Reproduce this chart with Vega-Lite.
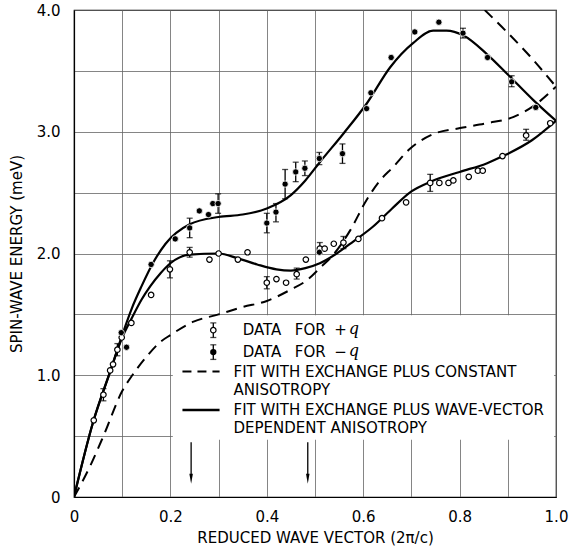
{
  "$schema": "https://vega.github.io/schema/vega-lite/v6.json",
  "width": 482,
  "height": 487,
  "autosize": "none",
  "padding": {"left": 74, "top": 10, "right": 14, "bottom": 50},
  "background": "white",
  "config": {
    "font": "DejaVu Sans",
    "view": {"stroke": "black", "strokeWidth": 1.2},
    "axis": {
      "domainColor": "black", "domainWidth": 1.2,
      "gridColor": "#666", "gridWidth": 0.8, "gridOpacity": 1,
      "ticks": false, "tickSize": 0,
      "labelFont": "DejaVu Sans", "labelFontSize": 15, "labelColor": "black",
      "titleFont": "DejaVu Sans", "titleFontSize": 15, "titleFontWeight": "normal", "titleColor": "black"
    }
  },
  "datasets": {
    "curves": [
      {"s": "minus", "x": 0, "y": 0}, {"s": "minus", "x": 0.04, "y": 0.62}, {"s": "minus", "x": 0.075, "y": 1.03}, {"s": "minus", "x": 0.1, "y": 1.33}, {"s": "minus", "x": 0.12, "y": 1.55}, {"s": "minus", "x": 0.14, "y": 1.73}, {"s": "minus", "x": 0.165, "y": 1.93}, {"s": "minus", "x": 0.19, "y": 2.08}, {"s": "minus", "x": 0.24, "y": 2.24}, {"s": "minus", "x": 0.3, "y": 2.3}, {"s": "minus", "x": 0.35, "y": 2.32}, {"s": "minus", "x": 0.4, "y": 2.37}, {"s": "minus", "x": 0.45, "y": 2.48}, {"s": "minus", "x": 0.48, "y": 2.6}, {"s": "minus", "x": 0.51, "y": 2.75}, {"s": "minus", "x": 0.56, "y": 2.99}, {"s": "minus", "x": 0.607, "y": 3.23}, {"s": "minus", "x": 0.656, "y": 3.53}, {"s": "minus", "x": 0.704, "y": 3.73}, {"s": "minus", "x": 0.745, "y": 3.83}, {"s": "minus", "x": 0.773, "y": 3.83}, {"s": "minus", "x": 0.808, "y": 3.79}, {"s": "minus", "x": 0.856, "y": 3.64}, {"s": "minus", "x": 0.9, "y": 3.47}, {"s": "minus", "x": 0.953, "y": 3.26}, {"s": "minus", "x": 1.0, "y": 3.09},
      {"s": "plus", "x": 0, "y": 0}, {"s": "plus", "x": 0.04, "y": 0.62}, {"s": "plus", "x": 0.075, "y": 1.03}, {"s": "plus", "x": 0.1, "y": 1.31}, {"s": "plus", "x": 0.12, "y": 1.47}, {"s": "plus", "x": 0.14, "y": 1.62}, {"s": "plus", "x": 0.158, "y": 1.73}, {"s": "plus", "x": 0.18, "y": 1.84}, {"s": "plus", "x": 0.2, "y": 1.92}, {"s": "plus", "x": 0.24, "y": 1.99}, {"s": "plus", "x": 0.3, "y": 2.0}, {"s": "plus", "x": 0.34, "y": 1.96}, {"s": "plus", "x": 0.38, "y": 1.91}, {"s": "plus", "x": 0.42, "y": 1.87}, {"s": "plus", "x": 0.45, "y": 1.86}, {"s": "plus", "x": 0.48, "y": 1.88}, {"s": "plus", "x": 0.51, "y": 1.92}, {"s": "plus", "x": 0.545, "y": 2.0}, {"s": "plus", "x": 0.58, "y": 2.1}, {"s": "plus", "x": 0.62, "y": 2.22}, {"s": "plus", "x": 0.66, "y": 2.37}, {"s": "plus", "x": 0.7, "y": 2.51}, {"s": "plus", "x": 0.74, "y": 2.59}, {"s": "plus", "x": 0.8, "y": 2.67}, {"s": "plus", "x": 0.856, "y": 2.74}, {"s": "plus", "x": 0.89, "y": 2.8}, {"s": "plus", "x": 0.95, "y": 2.93}, {"s": "plus", "x": 1.0, "y": 3.09},
      {"s": "constA", "x": 0, "y": 0}, {"s": "constA", "x": 0.033, "y": 0.25}, {"s": "constA", "x": 0.061, "y": 0.5}, {"s": "constA", "x": 0.1, "y": 0.87}, {"s": "constA", "x": 0.121, "y": 1.0}, {"s": "constA", "x": 0.15, "y": 1.15}, {"s": "constA", "x": 0.178, "y": 1.27}, {"s": "constA", "x": 0.2, "y": 1.33}, {"s": "constA", "x": 0.248, "y": 1.44}, {"s": "constA", "x": 0.3, "y": 1.5}, {"s": "constA", "x": 0.35, "y": 1.56}, {"s": "constA", "x": 0.4, "y": 1.61}, {"s": "constA", "x": 0.448, "y": 1.7}, {"s": "constA", "x": 0.483, "y": 1.78}, {"s": "constA", "x": 0.51, "y": 1.88}, {"s": "constA", "x": 0.538, "y": 1.99}, {"s": "constA", "x": 0.573, "y": 2.19}, {"s": "constA", "x": 0.607, "y": 2.44}, {"s": "constA", "x": 0.635, "y": 2.6}, {"s": "constA", "x": 0.662, "y": 2.71}, {"s": "constA", "x": 0.697, "y": 2.86}, {"s": "constA", "x": 0.745, "y": 2.98}, {"s": "constA", "x": 0.801, "y": 3.03}, {"s": "constA", "x": 0.856, "y": 3.07}, {"s": "constA", "x": 0.911, "y": 3.12}, {"s": "constA", "x": 0.953, "y": 3.21}, {"s": "constA", "x": 1.0, "y": 3.37},
      {"s": "constB", "x": 0.852, "y": 4.0}, {"s": "constB", "x": 0.898, "y": 3.82}, {"s": "constB", "x": 0.946, "y": 3.62}, {"s": "constB", "x": 1.0, "y": 3.37}
    ],
    "points": [
      {"t": "open", "x": 0.041, "y": 0.63}, {"t": "open", "x": 0.061, "y": 0.84, "lo": 0.79, "hi": 0.89}, {"t": "open", "x": 0.075, "y": 1.04}, {"t": "open", "x": 0.081, "y": 1.09}, {"t": "open", "x": 0.09, "y": 1.21, "lo": 1.16, "hi": 1.26}, {"t": "open", "x": 0.099, "y": 1.31}, {"t": "open", "x": 0.119, "y": 1.43}, {"t": "open", "x": 0.16, "y": 1.66}, {"t": "open", "x": 0.199, "y": 1.87, "lo": 1.8, "hi": 1.94}, {"t": "open", "x": 0.24, "y": 2.01, "lo": 1.97, "hi": 2.05}, {"t": "open", "x": 0.281, "y": 1.95}, {"t": "open", "x": 0.3, "y": 2.0}, {"t": "open", "x": 0.34, "y": 1.95}, {"t": "open", "x": 0.36, "y": 2.01}, {"t": "open", "x": 0.4, "y": 1.76, "lo": 1.71, "hi": 1.81}, {"t": "open", "x": 0.42, "y": 1.79}, {"t": "open", "x": 0.44, "y": 1.76}, {"t": "open", "x": 0.462, "y": 1.83, "lo": 1.79, "hi": 1.88}, {"t": "open", "x": 0.481, "y": 1.95}, {"t": "open", "x": 0.51, "y": 2.04, "lo": 2.0, "hi": 2.09}, {"t": "open", "x": 0.52, "y": 2.04}, {"t": "open", "x": 0.539, "y": 2.08}, {"t": "open", "x": 0.559, "y": 2.09, "lo": 2.04, "hi": 2.14}, {"t": "open", "x": 0.59, "y": 2.12}, {"t": "open", "x": 0.639, "y": 2.29}, {"t": "open", "x": 0.689, "y": 2.42}, {"t": "open", "x": 0.739, "y": 2.58, "lo": 2.51, "hi": 2.65}, {"t": "open", "x": 0.758, "y": 2.58}, {"t": "open", "x": 0.777, "y": 2.58}, {"t": "open", "x": 0.787, "y": 2.6}, {"t": "open", "x": 0.819, "y": 2.63}, {"t": "open", "x": 0.838, "y": 2.68}, {"t": "open", "x": 0.848, "y": 2.68}, {"t": "open", "x": 0.889, "y": 2.8}, {"t": "open", "x": 0.938, "y": 2.97, "lo": 2.93, "hi": 3.02}, {"t": "open", "x": 0.988, "y": 3.07},
      {"t": "filled", "x": 0.098, "y": 1.35}, {"t": "filled", "x": 0.109, "y": 1.23}, {"t": "filled", "x": 0.16, "y": 1.91}, {"t": "filled", "x": 0.21, "y": 2.12}, {"t": "filled", "x": 0.24, "y": 2.21, "lo": 2.13, "hi": 2.29}, {"t": "filled", "x": 0.26, "y": 2.35}, {"t": "filled", "x": 0.279, "y": 2.32}, {"t": "filled", "x": 0.288, "y": 2.41}, {"t": "filled", "x": 0.299, "y": 2.41, "lo": 2.33, "hi": 2.49}, {"t": "filled", "x": 0.4, "y": 2.25, "lo": 2.17, "hi": 2.33}, {"t": "filled", "x": 0.419, "y": 2.34, "lo": 2.26, "hi": 2.41}, {"t": "filled", "x": 0.438, "y": 2.57, "lo": 2.45, "hi": 2.69}, {"t": "filled", "x": 0.46, "y": 2.67, "lo": 2.59, "hi": 2.75}, {"t": "filled", "x": 0.479, "y": 2.7, "lo": 2.64, "hi": 2.76}, {"t": "filled", "x": 0.509, "y": 2.78, "lo": 2.73, "hi": 2.83}, {"t": "filled", "x": 0.509, "y": 2.01}, {"t": "filled", "x": 0.557, "y": 2.82, "lo": 2.74, "hi": 2.9}, {"t": "filled", "x": 0.607, "y": 3.19}, {"t": "filled", "x": 0.616, "y": 3.32}, {"t": "filled", "x": 0.658, "y": 3.61}, {"t": "filled", "x": 0.707, "y": 3.82}, {"t": "filled", "x": 0.757, "y": 3.9}, {"t": "filled", "x": 0.807, "y": 3.81, "lo": 3.77, "hi": 3.85}, {"t": "filled", "x": 0.858, "y": 3.61}, {"t": "filled", "x": 0.908, "y": 3.41, "lo": 3.37, "hi": 3.46}, {"t": "filled", "x": 0.958, "y": 3.2}
    ],
    "keysym": [
      {"t": "open", "x": 0.289, "y": 1.37, "lo": 1.31, "hi": 1.43},
      {"t": "filled", "x": 0.289, "y": 1.19, "lo": 1.13, "hi": 1.25}
    ],
    "keylines": [
      {"s": "dash", "x": 0.225, "y": 1.03}, {"s": "dash", "x": 0.302, "y": 1.03},
      {"s": "solid", "x": 0.225, "y": 0.715}, {"s": "solid", "x": 0.302, "y": 0.715}
    ],
    "keytext": [
      {"x": 0.35, "y": 1.37, "label": "DATA"}, {"x": 0.458, "y": 1.37, "label": "FOR"}, {"x": 0.54, "y": 1.37, "label": "+"},
      {"x": 0.35, "y": 1.19, "label": "DATA"}, {"x": 0.458, "y": 1.19, "label": "FOR"}, {"x": 0.54, "y": 1.19, "label": "−"},
      {"x": 0.331, "y": 1.03, "label": "FIT WITH EXCHANGE PLUS CONSTANT"},
      {"x": 0.331, "y": 0.88, "label": "ANISOTROPY"},
      {"x": 0.331, "y": 0.715, "label": "FIT WITH EXCHANGE PLUS WAVE-VECTOR"},
      {"x": 0.331, "y": 0.565, "label": "DEPENDENT ANISOTROPY"}
    ],
    "keyq": [
      {"x": 0.57, "y": 1.37, "label": "q"}, {"x": 0.57, "y": 1.19, "label": "q"}
    ],
    "keybox": [{"x": 0.205, "x2": 0.996, "y": 0.47, "y2": 1.493}],
    "arrows": [
      {"x": 0.243, "top": 0.45, "bottom": 0.17, "tip": 0.15},
      {"x": 0.485, "top": 0.45, "bottom": 0.17, "tip": 0.15}
    ]
  },
  "layer": [
    {
      "data": {"name": "keybox"},
      "mark": {"type": "rect", "fill": "white", "stroke": null},
      "encoding": {
        "x": {"field": "x", "type": "quantitative", "scale": {"domain": [0, 1], "nice": false}, "title": "REDUCED WAVE VECTOR (2π/c)",
          "axis": {"values": [0, 0.1, 0.2, 0.3, 0.4, 0.5, 0.6, 0.7, 0.8, 0.9, 1.0], "grid": true,
            "labelExpr": "indexof(['0.0','0.2','0.4','0.6','0.8','1.0'], format(datum.value, '.1f')) >= 0 ? (datum.value == 0 ? '0' : format(datum.value, '.1f')) : ''",
            "labelPadding": 12, "titlePadding": 6, "labelFlush": false, "labelOverlap": false}},
        "x2": {"field": "x2"},
        "y": {"field": "y", "type": "quantitative", "scale": {"domain": [0, 4], "nice": false}, "title": "SPIN-WAVE ENERGY (meV)",
          "axis": {"values": [0, 0.5, 1, 1.5, 2, 2.5, 3, 3.5, 4], "grid": true,
            "labelExpr": "datum.value == 0 ? '0' : (datum.value % 1 == 0 ? format(datum.value, '.1f') : '')",
            "labelPadding": 14, "titlePadding": 12, "labelFlush": false, "labelOverlap": false}},
        "y2": {"field": "y2"}
      }
    },
    {
      "data": {"name": "curves"},
      "transform": [{"filter": "datum.s == 'constA' || datum.s == 'constB'"}],
      "mark": {"type": "line", "interpolate": "monotone", "color": "black", "strokeWidth": 2, "strokeDash": [11, 7], "clip": true},
      "encoding": {
        "x": {"field": "x", "type": "quantitative", "title": "REDUCED WAVE VECTOR (2π/c)"},
        "y": {"field": "y", "type": "quantitative", "title": "SPIN-WAVE ENERGY (meV)"},
        "detail": {"field": "s"}
      }
    },
    {
      "data": {"name": "curves"},
      "transform": [{"filter": "datum.s == 'plus' || datum.s == 'minus'"}],
      "mark": {"type": "line", "interpolate": "monotone", "color": "black", "strokeWidth": 2.2, "clip": true},
      "encoding": {
        "x": {"field": "x", "type": "quantitative", "title": "REDUCED WAVE VECTOR (2π/c)"},
        "y": {"field": "y", "type": "quantitative", "title": "SPIN-WAVE ENERGY (meV)"},
        "detail": {"field": "s"}
      }
    },
    {
      "data": {"name": "points"},
      "transform": [{"filter": "isValid(datum.lo)"}],
      "mark": {"type": "errorbar", "color": "black", "thickness": 1.3, "ticks": {"size": 6, "thickness": 1.3, "color": "black"}},
      "encoding": {
        "x": {"field": "x", "type": "quantitative", "title": "REDUCED WAVE VECTOR (2π/c)"},
        "y": {"field": "lo", "type": "quantitative", "title": "SPIN-WAVE ENERGY (meV)"},
        "y2": {"field": "hi"}
      }
    },
    {
      "data": {"name": "keysym"},
      "mark": {"type": "errorbar", "color": "black", "thickness": 1.3, "ticks": {"size": 6, "thickness": 1.3, "color": "black"}},
      "encoding": {
        "x": {"field": "x", "type": "quantitative", "title": "REDUCED WAVE VECTOR (2π/c)"},
        "y": {"field": "lo", "type": "quantitative", "title": "SPIN-WAVE ENERGY (meV)"},
        "y2": {"field": "hi"}
      }
    },
    {
      "data": {"name": "points"},
      "transform": [{"filter": "datum.t == 'open'"}],
      "mark": {"type": "point", "shape": "circle", "filled": false, "fill": "white", "fillOpacity": 1, "stroke": "black", "strokeWidth": 1.2, "size": 30, "opacity": 1},
      "encoding": {
        "x": {"field": "x", "type": "quantitative", "title": "REDUCED WAVE VECTOR (2π/c)"},
        "y": {"field": "y", "type": "quantitative", "title": "SPIN-WAVE ENERGY (meV)"}
      }
    },
    {
      "data": {"name": "points"},
      "transform": [{"filter": "datum.t == 'filled'"}],
      "mark": {"type": "point", "shape": "circle", "filled": true, "fill": "black", "stroke": "white", "strokeWidth": 0.8, "size": 40, "opacity": 1},
      "encoding": {
        "x": {"field": "x", "type": "quantitative", "title": "REDUCED WAVE VECTOR (2π/c)"},
        "y": {"field": "y", "type": "quantitative", "title": "SPIN-WAVE ENERGY (meV)"}
      }
    },
    {
      "data": {"name": "keysym"},
      "transform": [{"filter": "datum.t == 'open'"}],
      "mark": {"type": "point", "shape": "circle", "filled": false, "fill": "white", "fillOpacity": 1, "stroke": "black", "strokeWidth": 1.2, "size": 30, "opacity": 1},
      "encoding": {
        "x": {"field": "x", "type": "quantitative", "title": "REDUCED WAVE VECTOR (2π/c)"},
        "y": {"field": "y", "type": "quantitative", "title": "SPIN-WAVE ENERGY (meV)"}
      }
    },
    {
      "data": {"name": "keysym"},
      "transform": [{"filter": "datum.t == 'filled'"}],
      "mark": {"type": "point", "shape": "circle", "filled": true, "fill": "black", "size": 40, "opacity": 1},
      "encoding": {
        "x": {"field": "x", "type": "quantitative", "title": "REDUCED WAVE VECTOR (2π/c)"},
        "y": {"field": "y", "type": "quantitative", "title": "SPIN-WAVE ENERGY (meV)"}
      }
    },
    {
      "data": {"name": "keylines"},
      "transform": [{"filter": "datum.s == 'dash'"}],
      "mark": {"type": "line", "color": "black", "strokeWidth": 2, "strokeDash": [9, 6]},
      "encoding": {
        "x": {"field": "x", "type": "quantitative", "title": "REDUCED WAVE VECTOR (2π/c)"},
        "y": {"field": "y", "type": "quantitative", "title": "SPIN-WAVE ENERGY (meV)"}
      }
    },
    {
      "data": {"name": "keylines"},
      "transform": [{"filter": "datum.s == 'solid'"}],
      "mark": {"type": "line", "color": "black", "strokeWidth": 2.4},
      "encoding": {
        "x": {"field": "x", "type": "quantitative", "title": "REDUCED WAVE VECTOR (2π/c)"},
        "y": {"field": "y", "type": "quantitative", "title": "SPIN-WAVE ENERGY (meV)"}
      }
    },
    {
      "data": {"name": "keytext"},
      "mark": {"type": "text", "align": "left", "baseline": "middle", "fontSize": 15, "font": "DejaVu Sans", "color": "black"},
      "encoding": {
        "x": {"field": "x", "type": "quantitative", "title": "REDUCED WAVE VECTOR (2π/c)"},
        "y": {"field": "y", "type": "quantitative", "title": "SPIN-WAVE ENERGY (meV)"},
        "text": {"field": "label"}
      }
    },
    {
      "data": {"name": "keyq"},
      "mark": {"type": "text", "align": "left", "baseline": "middle", "fontSize": 16, "font": "DejaVu Serif", "fontStyle": "italic", "color": "black", "dy": -1},
      "encoding": {
        "x": {"field": "x", "type": "quantitative", "title": "REDUCED WAVE VECTOR (2π/c)"},
        "y": {"field": "y", "type": "quantitative", "title": "SPIN-WAVE ENERGY (meV)"},
        "text": {"field": "label"}
      }
    },
    {
      "data": {"name": "arrows"},
      "mark": {"type": "rule", "color": "black", "strokeWidth": 1.3},
      "encoding": {
        "x": {"field": "x", "type": "quantitative", "title": "REDUCED WAVE VECTOR (2π/c)"},
        "y": {"field": "top", "type": "quantitative", "title": "SPIN-WAVE ENERGY (meV)"},
        "y2": {"field": "bottom"}
      }
    },
    {
      "data": {"name": "arrows"},
      "mark": {"type": "point", "shape": "M-0.35,-1L0.35,-1L0,1Z", "filled": true, "fill": "black", "size": 100, "opacity": 1},
      "encoding": {
        "x": {"field": "x", "type": "quantitative", "title": "REDUCED WAVE VECTOR (2π/c)"},
        "y": {"field": "tip", "type": "quantitative", "title": "SPIN-WAVE ENERGY (meV)"}
      }
    }
  ]
}
